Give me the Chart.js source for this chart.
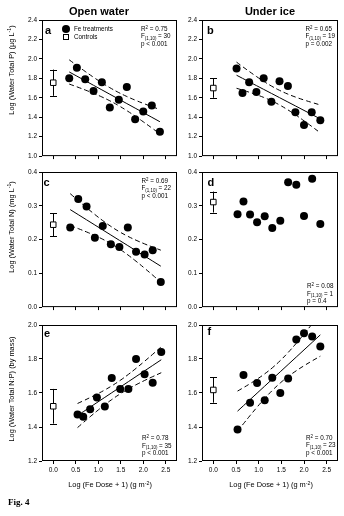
<!DOCTYPE html>
<html>
<head>
<meta charset="utf-8">
<script src="https://cdn.jsdelivr.net/npm/chart.js@4.4.1/dist/chart.umd.min.js"></script>
<style>
  html, body { margin: 0; padding: 0; background: #fff; }
  #fig { position: relative; width: 344px; height: 516px; overflow: hidden;
         font-family: "Liberation Sans", Arial, sans-serif; color: #000; }
  #fig canvas { position: absolute; }
  .t { position: absolute; white-space: nowrap; }
  .col { font-weight: bold; font-size: 11px; line-height: 11px; transform: translateX(-50%); }
  .let { font-weight: bold; font-size: 11px; line-height: 11px; }
  .st { font-size: 6.3px; line-height: 6.3px; }
  .lg { font-size: 6.3px; line-height: 6.3px; }
  .yt { font-size: 7.4px; line-height: 7.4px; transform: translate(-50%, -50%) rotate(-90deg); }
  .xt { font-size: 7.4px; line-height: 7.4px; transform: translateX(-50%); }
  .fig { font-family: "Liberation Serif", "Times New Roman", serif; font-weight: bold; font-size: 9px; line-height: 9px; }
  sup, sub { font-size: 70%; line-height: 0; position: relative; vertical-align: baseline; }
  sup { top: -0.5em; }
  sub { top: 0.35em; }
  .mk { position: absolute; box-sizing: border-box; }
</style>
</head>
<body>
<div id="fig"></div>
<script>
// Fe dose on the x axis: log(Fe dose + 1) in g m^-2, one array per panel
const DOSE_A = [0.355, 0.525, 0.71, 0.895, 1.08, 1.257, 1.457, 1.635, 1.82, 2.0, 2.19, 2.37];
const DOSE_B = [0.512, 0.643, 0.79, 0.95, 1.11, 1.28, 1.46, 1.645, 1.81, 2.0, 2.17, 2.36];
const DOSE_C = [0.377, 0.555, 0.74, 0.925, 1.10, 1.28, 1.47, 1.657, 1.84, 2.03, 2.21, 2.39];
const DOSE_D = [0.534, 0.665, 0.81, 0.965, 1.133, 1.30, 1.477, 1.65, 1.83, 2.0, 2.18, 2.36];
const DOSE_E = [0.54, 0.666, 0.82, 0.97, 1.146, 1.30, 1.487, 1.67, 1.84, 2.03, 2.21, 2.40];
const DOSE_F = [0.534, 0.665, 0.81, 0.965, 1.133, 1.30, 1.477, 1.65, 1.83, 2.0, 2.18, 2.36];

// Fe-treated enclosures
const TP_OPEN = [1.80, 1.91, 1.79, 1.67, 1.76, 1.50, 1.58, 1.71, 1.38, 1.46, 1.52, 1.25];
const TP_ICE  = [1.90, 1.65, 1.76, 1.66, 1.80, 1.56, 1.77, 1.72, 1.45, 1.32, 1.45, 1.37];
const TN_OPEN = [0.236, 0.320, 0.298, 0.205, 0.240, 0.186, 0.178, 0.236, 0.164, 0.156, 0.168, 0.074];
const TN_ICE  = [0.275, 0.313, 0.274, 0.251, 0.269, 0.234, 0.256, 0.370, 0.362, 0.270, 0.380, 0.246];
const NP_OPEN = [1.473, 1.461, 1.504, 1.573, 1.520, 1.688, 1.624, 1.624, 1.800, 1.710, 1.661, 1.841];
const NP_ICE  = [1.386, 1.706, 1.543, 1.659, 1.557, 1.690, 1.600, 1.686, 1.914, 1.951, 1.933, 1.873];

// Controls (dose 0): mean and error bar half-length, panels a-f
const CTRL_MEAN = [1.755, 1.70, 0.244, 0.311, 1.522, 1.618];
const CTRL_ERR  = [0.135, 0.10, 0.034, 0.031, 0.102, 0.075];

// Regression statistics, panels a-f
const R2_TEXT = ['0.75', '0.65', '0.69', '0.08', '0.78', '0.70'];
const F_TEXT  = ['30', '19', '22', '1', '35', '23'];
const P_TEXT  = ['p < 0.001', 'p = 0.002', 'p < 0.001', 'p = 0.4', 'p < 0.001', 'p < 0.001'];

// Tick labels
const X_TICKS = [0, 0.5, 1.0, 1.5, 2.0, 2.5];
const Y_TICKS_P = [1.0, 1.2, 1.4, 1.6, 1.8, 2.0, 2.2, 2.4];
const Y_TICKS_N = [0.0, 0.1, 0.2, 0.3, 0.4];
const Y_TICKS_NP = [1.2, 1.4, 1.6, 1.8, 2.0];

const T_CRIT = 2.228; // two-sided 95% t quantile, 10 d.f. (12 enclosures)

// Least-squares line with 95% confidence band, evaluated at the observed doses
function fitBands(xs, ys) {
  const n = xs.length;
  const mx = xs.reduce((a, b) => a + b, 0) / n;
  const my = ys.reduce((a, b) => a + b, 0) / n;
  let sxx = 0, sxy = 0;
  xs.forEach((x, i) => { sxx += (x - mx) ** 2; sxy += (x - mx) * (ys[i] - my); });
  const slope = sxy / sxx, icpt = my - slope * mx;
  let sse = 0;
  xs.forEach((x, i) => { sse += (ys[i] - icpt - slope * x) ** 2; });
  const s = Math.sqrt(sse / (n - 2));
  const idx = xs.map((_, i) => i).sort((i, j) => xs[i] - xs[j]);
  const fit = [], lo = [], hi = [];
  idx.forEach(i => {
    const x = xs[i], yh = icpt + slope * x;
    const hw = T_CRIT * s * Math.sqrt(1 / n + (x - mx) ** 2 / sxx);
    fit.push({ x, y: yh }); lo.push({ x, y: yh - hw }); hi.push({ x, y: yh + hw });
  });
  return { fit, lo, hi };
}

const fig = document.getElementById('fig');

// Box around each plotting area
const framePlugin = {
  id: 'frame',
  afterDatasetsDraw(chart) {
    const { ctx, chartArea: { left, top, right, bottom } } = chart;
    ctx.save();
    ctx.strokeStyle = '#000';
    ctx.lineWidth = 1;
    ctx.strokeRect(left + 0.5, top + 0.5, right - left - 1, bottom - top - 1);
    ctx.restore();
  }
};

// Error bar for the control mean
const errBarPlugin = {
  id: 'errbar',
  beforeDatasetsDraw(chart, args, opts) {
    const { ctx, scales: { x, y } } = chart;
    const px = Math.round(x.getPixelForValue(0)) + 0.5;
    const yTop = y.getPixelForValue(opts.mean + opts.err);
    const yBot = y.getPixelForValue(opts.mean - opts.err);
    ctx.save();
    ctx.strokeStyle = '#000';
    ctx.lineWidth = 1;
    ctx.beginPath();
    ctx.moveTo(px, yTop); ctx.lineTo(px, yBot);
    ctx.moveTo(px - 3.5, Math.round(yTop) + 0.5); ctx.lineTo(px + 3.5, Math.round(yTop) + 0.5);
    ctx.moveTo(px - 3.5, Math.round(yBot) + 0.5); ctx.lineTo(px + 3.5, Math.round(yBot) + 0.5);
    ctx.stroke();
    ctx.restore();
  }
};

const PAD_T = 6, PAD_R = 6;

const PANELS = [
  { xs: DOSE_A, ys: TP_OPEN, ticks: Y_TICKS_P,  ymin: 1.0, ymax: 2.4, L: 42,  R: 177, T: 20,  B: 157, yw: 40, xlab: false, fit: true },
  { xs: DOSE_B, ys: TP_ICE,  ticks: Y_TICKS_P,  ymin: 1.0, ymax: 2.4, L: 202, R: 338, T: 20,  B: 157, yw: 38, xlab: false, fit: true },
  { xs: DOSE_C, ys: TN_OPEN, ticks: Y_TICKS_N,  ymin: 0.0, ymax: 0.4, L: 42,  R: 177, T: 172, B: 308, yw: 40, xlab: false, fit: true },
  { xs: DOSE_D, ys: TN_ICE,  ticks: Y_TICKS_N,  ymin: 0.0, ymax: 0.4, L: 202, R: 338, T: 172, B: 308, yw: 38, xlab: false, fit: false },
  { xs: DOSE_E, ys: NP_OPEN, ticks: Y_TICKS_NP, ymin: 1.2, ymax: 2.0, L: 42,  R: 177, T: 325, B: 461, yw: 40, xlab: true,  fit: true },
  { xs: DOSE_F, ys: NP_ICE,  ticks: Y_TICKS_NP, ymin: 1.2, ymax: 2.0, L: 202, R: 338, T: 325, B: 461, yw: 38, xlab: true,  fit: true }
];

const tickFont = { family: '"Liberation Sans", Arial, sans-serif', size: 6.5 };

PANELS.forEach((p, k) => {
  const xh = p.xlab ? 18 : 5;
  const W = p.R - p.L + p.yw + PAD_R;
  const H = p.B - p.T + PAD_T + xh;
  const cv = document.createElement('canvas');
  cv.width = W; cv.height = H;
  cv.style.left = (p.L - p.yw) + 'px';
  cv.style.top = (p.T - PAD_T) + 'px';
  cv.style.width = W + 'px';
  cv.style.height = H + 'px';
  fig.appendChild(cv);

  const datasets = [
    {
      label: 'Fe treatments',
      data: p.xs.map((x, i) => ({ x, y: p.ys[i] })),
      pointRadius: 4, pointHoverRadius: 4,
      pointBackgroundColor: '#000', pointBorderColor: '#000', pointBorderWidth: 0,
      showLine: false
    },
    {
      label: 'Controls',
      data: [{ x: 0, y: CTRL_MEAN[k] }],
      pointStyle: 'rect', pointRadius: 3.9, pointHoverRadius: 3.9,
      pointBackgroundColor: '#fff', pointBorderColor: '#000', pointBorderWidth: 1,
      showLine: false
    }
  ];
  if (p.fit) {
    const b = fitBands(p.xs, p.ys);
    const line = { showLine: true, pointRadius: 0, pointHoverRadius: 0, borderColor: '#000', borderWidth: 1, fill: false };
    datasets.push(Object.assign({ label: 'fit', data: b.fit, tension: 0 }, line));
    datasets.push(Object.assign({ label: 'upper 95%', data: b.hi, tension: 0.4, borderDash: [5, 3] }, line));
    datasets.push(Object.assign({ label: 'lower 95%', data: b.lo, tension: 0.4, borderDash: [5, 3] }, line));
  }

  new Chart(cv, {
    type: 'scatter',
    data: { datasets },
    plugins: [errBarPlugin, framePlugin],
    options: {
      responsive: false,
      animation: false,
      events: [],
      layout: { padding: { top: PAD_T, right: PAD_R, bottom: 0, left: 0 } },
      plugins: {
        legend: { display: false },
        tooltip: { enabled: false },
        errbar: { mean: CTRL_MEAN[k], err: CTRL_ERR[k] }
      },
      scales: {
        x: {
          type: 'linear', min: -0.25, max: 2.75,
          afterBuildTicks: s => { s.ticks = X_TICKS.map(v => ({ value: v })); },
          afterFit: s => { s.height = xh; },
          ticks: {
            display: p.xlab, autoSkip: false, maxRotation: 0, padding: 2,
            color: '#000', font: tickFont, callback: v => Number(v).toFixed(1)
          },
          grid: { display: true, drawOnChartArea: false, drawTicks: true, tickLength: 3, color: '#000', lineWidth: 1 },
          border: { display: false }
        },
        y: {
          type: 'linear', min: p.ymin, max: p.ymax,
          afterBuildTicks: s => { s.ticks = p.ticks.map(v => ({ value: v })); },
          afterFit: s => { s.width = p.yw; },
          ticks: {
            autoSkip: false, padding: 2, color: '#000', font: tickFont,
            callback: v => Number(v).toFixed(1)
          },
          grid: { display: true, drawOnChartArea: false, drawTicks: true, tickLength: 3, color: '#000', lineWidth: 1 },
          border: { display: false }
        }
      }
    }
  });
});

// Text overlays
function text(html, cls, x, yMid, size) {
  const d = document.createElement('div');
  d.className = 't ' + cls;
  d.innerHTML = html;
  d.style.left = x + 'px';
  d.style.top = (yMid - size / 2) + 'px';
  fig.appendChild(d);
  return d;
}

text('Open water', 'col', 99, 11, 11);
text('Under ice', 'col', 270, 11, 11);

const LETTERS = ['a', 'b', 'c', 'd', 'e', 'f'];
const LETTER_POS = [[45, 30], [207, 30], [43.5, 182], [207.5, 182], [44, 333], [207.5, 331.5]];
LETTERS.forEach((l, k) => text(l, 'let', LETTER_POS[k][0], LETTER_POS[k][1], 11));

// Statistics blocks: left edge and centre of the R² line
const STAT_POS = [[141, 29], [305.5, 29], [141.5, 181], [307, 286.5], [142, 438.5], [306, 438]];
STAT_POS.forEach(([x, y], k) => {
  text('R<sup>2</sup> = ' + R2_TEXT[k], 'st', x, y, 6.3);
  text('F<sub>(1,10)</sub> = ' + F_TEXT[k], 'st', x, y + 7.5, 6.3);
  text(P_TEXT[k], 'st', x, y + 15, 6.3);
});

// Legend (panel a)
const dot = document.createElement('div');
dot.className = 'mk';
Object.assign(dot.style, { left: '62px', top: '25px', width: '8px', height: '8px', borderRadius: '50%', background: '#000' });
fig.appendChild(dot);
const sq = document.createElement('div');
sq.className = 'mk';
Object.assign(sq.style, { left: '63px', top: '34px', width: '6px', height: '6px', border: '1px solid #000', background: '#fff' });
fig.appendChild(sq);
text('Fe treatments', 'lg', 74, 29, 6.3);
text('Controls', 'lg', 74, 37, 6.3);

// Axis titles
text('Log (Water Total P) (µg L<sup>-1</sup>)', 'yt', 12, 70, 7.4).style.top = '70px';
text('Log (Water Total N) (mg L<sup>-1</sup>)', 'yt', 12, 227, 7.4).style.top = '227px';
text('Log (Water Total N:P) (by mass)', 'yt', 12, 389, 7.4).style.top = '389px';
text('Log (Fe Dose + 1) (g m<sup>-2</sup>)', 'xt', 110, 485, 7.4);
text('Log (Fe Dose + 1) (g m<sup>-2</sup>)', 'xt', 271, 485, 7.4);

text('Fig. 4', 'fig', 8, 502, 9);
</script>
</body>
</html>
